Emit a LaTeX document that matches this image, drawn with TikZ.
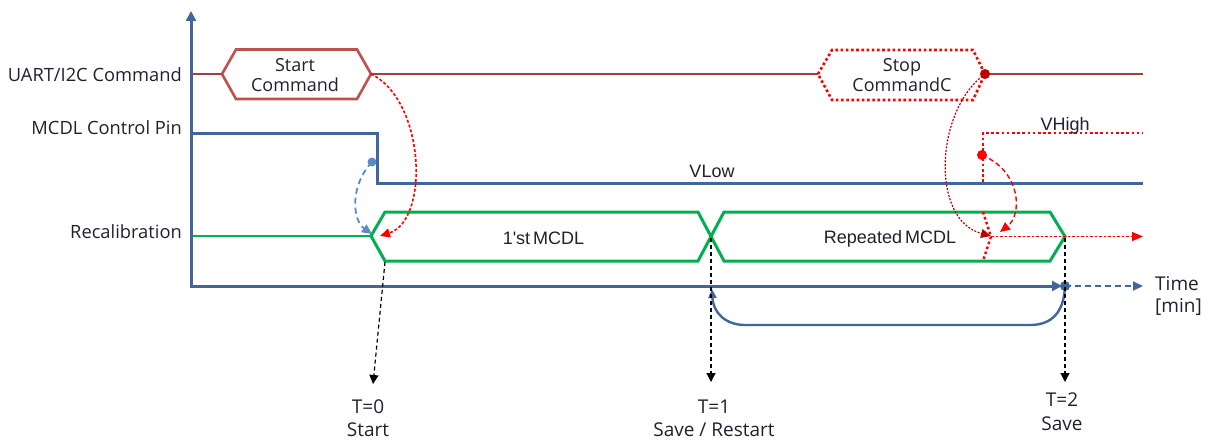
\documentclass[tikz,border=0pt]{standalone}
\usepackage{fontspec}
\setmainfont{Open Sans}
\newfontfamily\arialf{Liberation Sans}
\usetikzlibrary{arrows.meta}
\definecolor{axisblue}{HTML}{41669B}
\definecolor{sigred}{HTML}{C0504D}
\definecolor{uartred}{HTML}{A0403D}
\definecolor{sigreen}{HTML}{00B050}
\definecolor{brightred}{HTML}{FF0000}
\definecolor{darkred}{HTML}{C00000}
\definecolor{lightblue}{HTML}{5B8AC6}
\definecolor{txt}{HTML}{202030}
\tikzset{
  axisline/.style={draw=axisblue, line width=3pt},
  pinline/.style={draw=axisblue, line width=3pt},
  thinred/.style={draw=uartred, line width=1.2pt},
  thingreen/.style={draw=sigreen, line width=1.2pt},
  hexred/.style={draw=sigred, line width=2.6pt, line join=miter},
  hexgreen/.style={draw=sigreen, line width=3pt, line join=miter},
  reddots/.style={draw=brightred, line width=2.6pt, dash pattern=on 2.6pt off 2.6pt},
  redfine/.style={draw=brightred, line width=1.3pt, dash pattern=on 2.5pt off 2pt},
  blackdash/.style={draw=black, line width=1.2pt, dash pattern=on 4pt off 3pt},
  lab/.style={font=\fontsize{19}{22}\selectfont, text=txt, inner sep=0pt},
  llab/.style={font=\fontsize{18.3}{22}\selectfont, text=txt, inner sep=0pt},
  clab/.style={font=\fontsize{18}{22}\selectfont, text=txt, inner sep=0pt},
  alab/.style={font=\arialf\fontsize{18}{21}\selectfont, text=txt, inner sep=0pt},
}
\begin{document}
\begin{tikzpicture}[x=1pt,y=-1pt]
\useasboundingbox (0,0) rectangle (1209,441);
% key coordinates
\coordinate (O) at (191,286);
\coordinate (Ytop) at (191,11);
\coordinate (Xend) at (1062,286);
\coordinate (Tdot) at (1065,286);
\coordinate (Xtip) at (1143,286);
% left labels
\node[llab, anchor=base east] (lu) at (182,81.5) {UART/I2C Command};
\node[llab, anchor=base east] (lm) at (182,135) {MCDL Control Pin};
\node[llab, anchor=base east] (lr) at (182,238) {Recalibration};

% UART command line
\coordinate (u0) at (193,74);
\coordinate (sL) at (222,74);
\coordinate (sR) at (371,74);
\coordinate (pL) at (818,74);
\coordinate (pR) at (985,74);
\coordinate (u1) at (1143,74);
\draw[thinred] (u0) -- (sL);
\draw[thinred] (sR) -- (pL);
\draw[thinred] (pR) -- (u1);
\draw[hexred] (sL) -- (236,49.5) -- (357,49.5) -- (sR) -- (357,99) -- (236,99) -- cycle;
\node[clab, anchor=base] (startcmd) at (295,71.5) {Start};
\node[clab, anchor=base] (startcmd2) at (295,91.5) {Command};
\draw[reddots] (pL) -- (832,50) -- (973,50) -- (pR) -- (973,100) -- (832,100) -- cycle;
\node[clab, anchor=base] (stopcmd) at (902,71.5) {Stop};
\node[clab, anchor=base] (stopcmd2) at (902,91.5) {CommandC};

% MCDL control pin
\coordinate (m0) at (193,133);
\coordinate (m1) at (377,133);
\coordinate (m2) at (377,183);
\coordinate (m3) at (1143,183);
\draw[pinline, line join=miter] (m0) -- (m1) -- (m2) -- (m3);
\node[alab, anchor=base] (vlow) at (712,177) {VLow};
% VHigh dotted
\coordinate (h0) at (983,182);
\coordinate (h1) at (983,133);
\coordinate (h2) at (1143,133);
\draw[reddots, line join=miter] (h0) -- (h1) -- (h2);
\node[alab, anchor=base] (vhigh) at (1065,130) {VHigh};

% Recalibration
\coordinate (r0) at (193,236);
\coordinate (rL) at (371,236);
\coordinate (rX) at (711,236.5);
\coordinate (rR) at (1065,236.5);
\draw[thingreen] (r0) -- (rL);
\draw[hexgreen] (rL) -- (385,212) -- (698,212) -- (rX) -- (698,261) -- (385,261) -- cycle;
\draw[hexgreen] (rX) -- (724,212) -- (1050,212) -- (rR) -- (1050,261) -- (724,261) -- cycle;
\node[alab, anchor=base] (first) at (543.5,244) {1'st\,MCDL};
\node[alab, anchor=base] (rep) at (890,243) {Repeated\,MCDL};
% dotted red stop edge
\coordinate (q0) at (983,212);
\coordinate (q1) at (991,236.5);
\coordinate (q2) at (983,261);
\draw[reddots, line width=2.4pt] (q0) -- (q1) -- (q2);
\coordinate (redtip) at (1143,236.5);
\draw[redfine, -{Triangle[length=11pt,width=9pt]}, fill=brightred] (q1) -- (redtip);

% axes
\draw[axisline, -{Triangle[length=10pt,width=10pt]}] (191,287.5) -- (Ytop);
\draw[axisline, -{Triangle[length=10pt,width=10pt]}] (O) -- (Xend);
\draw[draw=axisblue, line width=2pt, dash pattern=on 6pt off 4pt, -{Triangle[length=10pt,width=9pt]}] (Tdot) -- (Xtip);
\node[lab, anchor=base west] (time) at (1155,290) {Time};
\node[lab, anchor=base west] (tmin) at (1155,312.5) {[min]};
% loop back
\coordinate (T1a) at (712,289);
\draw[draw=axisblue, line width=2.4pt, -{Triangle[length=9pt,width=8pt]}]
  (Tdot) .. controls (1064,312) and (1052,325) .. (1030,325) -- (745,325)
  .. controls (725,325) and (713,312) .. (T1a);
\fill[axisblue] (Tdot) circle (5pt);

% black dashed time markers
\coordinate (a0s) at (385,262);
\coordinate (a0e) at (373,384);
\coordinate (a1s) at (711,238);
\coordinate (a1e) at (711,382);
\coordinate (a2s) at (1065,238);
\coordinate (a2e) at (1065,382);
\draw[blackdash, -{Triangle[length=9pt,width=9pt]}] (a0s) -- (a0e);
\draw[blackdash, -{Triangle[length=9pt,width=9pt]}] (a1s) -- (a1e);
\draw[blackdash, -{Triangle[length=9pt,width=9pt]}] (a2s) -- (a2e);
\node[lab, anchor=base] (t0) at (368,413) {T=0};
\node[lab, anchor=base] (t0b) at (368,436.5) {Start};
\node[lab, anchor=base] (t1) at (714,413) {T=1};
\node[lab, anchor=base] (t1b) at (714,436.5) {Save / Restart};
\node[lab, anchor=base] (t2) at (1062,406.5) {T=2};
\node[lab, anchor=base] (t2b) at (1062,430) {Save};

% causal curves
\draw[draw=brightred, line width=1.6pt, dash pattern=on 3pt off 2pt, -{Triangle[length=10pt,width=9pt]}]
  (sR) .. controls (425,100) and (430,220) .. (380,236);
\coordinate (bdot) at (372,162);
\draw[draw=lightblue, line width=1.8pt, dash pattern=on 6pt off 4pt, -{Triangle[length=10pt,width=9pt]}]
  (bdot) .. controls (350,185) and (352,220) .. (372,234);
\fill[lightblue] (bdot) circle (4.5pt);
\draw[draw=darkred, line width=1.2pt, dash pattern=on 2pt off 1.5pt, -{Triangle[length=10pt,width=9pt]}]
  (pR) .. controls (935,110) and (930,220) .. (991,236);
\fill[darkred] (pR) circle (5pt);
\coordinate (rdot) at (982,155);
\draw[draw=brightred, line width=1.4pt, dash pattern=on 5pt off 3pt, -{Triangle[length=10pt,width=9pt]}]
  (rdot) .. controls (1022,172) and (1022,215) .. (1000,232);
\fill[brightred] (rdot) circle (5pt);
\end{tikzpicture}
\end{document}
